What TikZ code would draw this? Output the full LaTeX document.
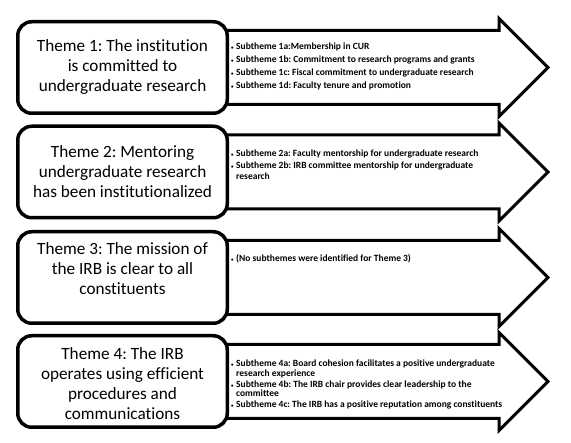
\documentclass[tikz,border=0pt]{standalone}
\usepackage{fontspec}
\setmainfont{Carlito}[Ligatures={NoCommon}]
\newcommand{\subbullet}{\makebox[5pt][l]{\fontsize{5}{5}\selectfont\textbullet}}
\newcommand{\subcont}{\hspace*{5pt}}
\frenchspacing
\begin{document}
\begin{tikzpicture}[x=1pt, y=-1pt,
  themebox/.style={draw, line width=3.5pt, rounded corners=14pt, fill=white,
    minimum width=209.5pt, minimum height=91.5pt, inner sep=0pt},
  themetext/.style={align=center, inner sep=0pt, font=\fontsize{17.2}{20}\selectfont},
  themearrow/.style={draw, line width=3pt, line join=miter, fill=white},
  sublist/.style={anchor=north west, align=left, inner sep=0pt,
    font=\bfseries\fontsize{9.5}{10.5}\selectfont}]
\useasboundingbox (0,0) rectangle (571,443);
% arrows first, the boxes cover their tails
\foreach \c in {67.5,172,277.5,381.5}
  \draw[themearrow] (220,\c-37) -- (499,\c-37) -- (499,\c-49) -- (548,\c)
    -- (499,\c+49) -- (499,\c+37) -- (220,\c+37) -- cycle;
% theme boxes
\node[themebox] (theme1) at (122.5,67.5) {};
\node[themetext] (theme1text) at (theme1.center) {Theme 1: The institution\\is committed to\\undergraduate research};
\node[themebox] (theme2) at (122.5,172) {};
\node[themetext] (theme2text) at (theme2.center) {Theme 2: Mentoring\\undergraduate research\\has been institutionalized};
\node[themebox] (theme3) at (122.5,277.5) {};
\node[themetext] (theme3text) at ([yshift=9pt]theme3.center) {Theme 3: The mission of\\the IRB is clear to all\\constituents};
\node[themebox] (theme4) at (122.5,381.5) {};
\node[themetext] (theme4text) at ([yshift=-2pt]theme4.center) {Theme 4: The IRB\\operates using efficient\\procedures and\\communications};
% subthemes
\node[sublist] (sub1) at (231,42.5) {\subbullet Subtheme 1a:Membership in CUR\\[2.4pt]
  \subbullet Subtheme 1b: Commitment to research programs and grants\\[2.4pt]
  \subbullet Subtheme 1c: Fiscal commitment to undergraduate research\\[2.4pt]
  \subbullet Subtheme 1d: Faculty tenure and promotion};
\node[sublist] (sub2) at (231,150) {\subbullet Subtheme 2a: Faculty mentorship for undergraduate research\\[1.5pt]
  \subbullet Subtheme 2b: IRB committee mentorship for undergraduate\\
  \subcont research};
\node[sublist] (sub3) at (231,254) {\subbullet (No subthemes were identified for Theme 3)};
\node[sublist] (sub4) at (231,360) {\subbullet Subtheme 4a: Board cohesion facilitates a positive undergraduate\\[-1pt]
  \subcont research experience\\[0.5pt]
  \subbullet Subtheme 4b: The IRB chair provides clear leadership to the\\[-1pt]
  \subcont committee\\[0.5pt]
  \subbullet Subtheme 4c: The IRB has a positive reputation among constituents};
\end{tikzpicture}
\end{document}
